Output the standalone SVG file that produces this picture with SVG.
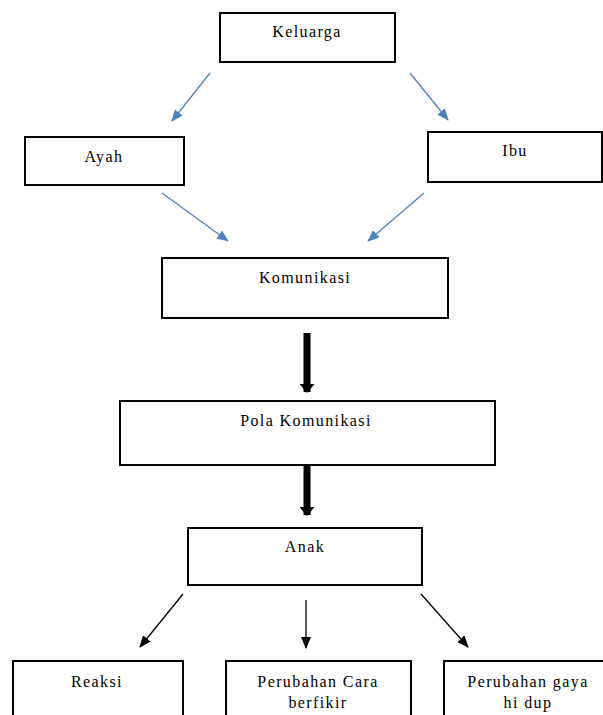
<svg xmlns="http://www.w3.org/2000/svg" width="603" height="715" viewBox="0 0 603 715">
<style>
.box{fill:#fff;stroke:#000;stroke-width:2}
.t{font-size:16px;letter-spacing:1.4px;text-anchor:middle;fill:#000}
.blue{stroke:#4f81bd;stroke-width:1.3;fill:none}
.blk{stroke:#000;stroke-width:1.3;fill:none}
.thick{stroke:#000;stroke-width:7;fill:none}
</style>
<defs>
<marker id="ab" markerUnits="userSpaceOnUse" markerWidth="12" markerHeight="10" refX="11" refY="5" orient="auto"><path d="M0,0 L12,5 L0,10 Z" fill="#4f81bd"/></marker>
<marker id="ak" markerUnits="userSpaceOnUse" markerWidth="12" markerHeight="10" refX="11" refY="5" orient="auto"><path d="M0,0 L12,5 L0,10 Z" fill="#000"/></marker>
<marker id="at" markerUnits="userSpaceOnUse" markerWidth="9" markerHeight="15" refX="8" refY="7.5" orient="auto"><path d="M0,0 L9,7.5 L0,15 Z" fill="#000"/></marker>
</defs>
<g id="connectors">
<line class="blue" x1="210" y1="73" x2="172" y2="121" marker-end="url(#ab)"/>
<line class="blue" x1="410" y1="73" x2="448" y2="120" marker-end="url(#ab)"/>
<line class="blue" x1="162" y1="193" x2="228" y2="241" marker-end="url(#ab)"/>
<line class="blue" x1="424" y1="193" x2="368" y2="241" marker-end="url(#ab)"/>
<line class="thick" x1="307" y1="333" x2="307" y2="392" marker-end="url(#at)"/>
<line class="thick" x1="307" y1="465" x2="307" y2="515" marker-end="url(#at)"/>
<line class="blk" x1="183" y1="594" x2="140" y2="647" marker-end="url(#ak)"/>
<line class="blk" x1="306" y1="600" x2="306" y2="648" marker-end="url(#ak)"/>
<line class="blk" x1="421" y1="594" x2="468" y2="647" marker-end="url(#ak)"/>
</g>
<g font-family="Liberation Serif, DejaVu Serif, serif">
<g id="keluarga"><rect class="box" x="220" y="13" width="175" height="49"/><text class="t" x="307" y="37">Keluarga</text></g>
<g id="ayah"><rect class="box" x="25" y="137" width="159" height="48"/><text class="t" x="104" y="162">Ayah</text></g>
<g id="ibu"><rect class="box" x="428" y="132" width="174" height="50"/><text class="t" x="515" y="156">Ibu</text></g>
<g id="komunikasi"><rect class="box" x="162" y="258" width="286" height="60"/><text class="t" x="305" y="283">Komunikasi</text></g>
<g id="pola"><rect class="box" x="120" y="401" width="375" height="64"/><text class="t" x="306" y="426">Pola Komunikasi</text></g>
<g id="anak"><rect class="box" x="188" y="528" width="234" height="57"/><text class="t" x="305" y="552">Anak</text></g>
<g id="reaksi"><rect class="box" x="13" y="661" width="170" height="70"/><text class="t" x="97" y="687">Reaksi</text></g>
<g id="cara"><rect class="box" x="226" y="661" width="185" height="70"/><text class="t" x="318" y="687">Perubahan Cara</text><text class="t" x="318" y="708">berfikir</text></g>
<g id="gaya"><rect class="box" x="444" y="661" width="175" height="70"/><text class="t" x="528" y="687">Perubahan gaya</text><text class="t" x="528" y="708">hi dup</text></g>
</g>
</svg>
